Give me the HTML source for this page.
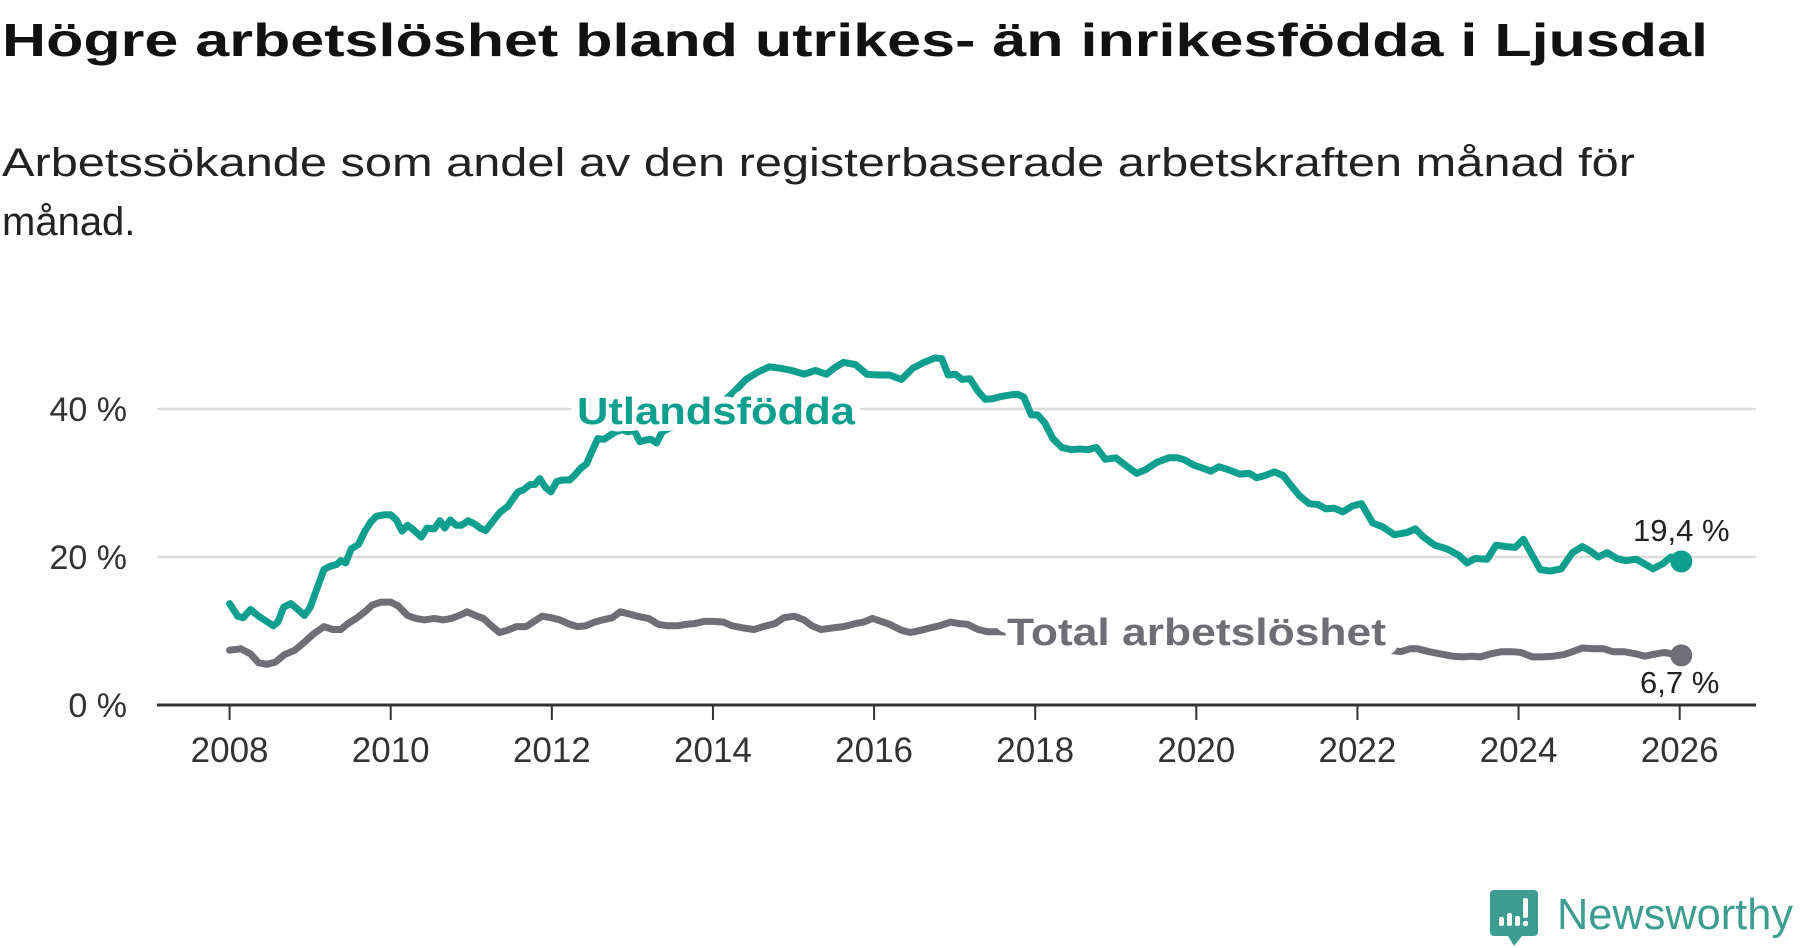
<!DOCTYPE html>
<html><head><meta charset="utf-8"><style>
html,body{margin:0;padding:0;background:#fff;width:1800px;height:948px;overflow:hidden}
svg{display:block;font-family:"Liberation Sans","DejaVu Sans",sans-serif}
</style></head><body>
<svg id="chart" width="1800" height="948" viewBox="0 0 1800 948">
<text x="2" y="56" font-size="46" font-weight="bold" fill="#111" textLength="1706" lengthAdjust="spacingAndGlyphs">Högre arbetslöshet bland utrikes- än inrikesfödda i Ljusdal</text>
<text x="2" y="176" font-size="40" fill="#222" textLength="1633" lengthAdjust="spacingAndGlyphs">Arbetssökande som andel av den registerbaserade arbetskraften månad för</text>
<text x="2" y="235" font-size="40" fill="#222">månad.</text>
<g id="grid"></g>
<g id="axes"></g>
<g id="series"></g>
<g id="labels"></g>
<g>
<path d="M1494 890 h40 a4 4 0 0 1 4 4 v38 a4 4 0 0 1 -4 4 h-12 l-8 10 l-6 -10 h-14 a4 4 0 0 1 -4 -4 v-38 a4 4 0 0 1 4 -4z" fill="#3d9d91"/>
<rect x="1499" y="917" width="5" height="9" rx="2" fill="#fff"/>
<rect x="1507" y="913" width="5" height="13" rx="2" fill="#fff"/>
<rect x="1515" y="916" width="5" height="10" rx="2" fill="#fff"/>
<rect x="1523" y="898" width="5" height="20" rx="2" fill="#fff"/>
<rect x="1523" y="921" width="5" height="5" rx="2" fill="#fff"/>
<text x="1557" y="929" font-size="44" fill="#3d9d91" textLength="236" lengthAdjust="spacingAndGlyphs">Newsworthy</text>
</g>
</svg>
<script>
const yTicks=[0,20,40];
const yTickLabels=["0 %","20 %","40 %"];
const xTicks=[2008,2010,2012,2014,2016,2018,2020,2022,2024,2026];
const utlYears=[0,.10,.17,.26,.36,.46,.54,.60,.67,.76,.86,.93,1.00,1.08,1.17,1.24,1.33,1.38,1.44,1.51,1.60,1.68,1.75,1.82,1.92,2.00,2.07,2.14,2.21,2.29,2.38,2.45,2.54,2.61,2.67,2.74,2.81,2.88,2.96,3.05,3.11,3.18,3.28,3.36,3.45,3.52,3.58,3.65,3.73,3.79,3.85,3.92,3.99,4.06,4.13,4.22,4.28,4.36,4.43,4.50,4.57,4.65,4.72,4.79,4.87,4.95,5.02,5.09,5.16,5.23,5.30,5.37,5.56,5.77,5.99,6.13,6.27,6.41,6.56,6.70,6.84,6.98,7.13,7.27,7.41,7.50,7.62,7.77,7.91,8.05,8.19,8.34,8.48,8.62,8.76,8.84,8.92,9.01,9.09,9.19,9.29,9.38,9.48,9.58,9.69,9.78,9.86,9.95,10.03,10.12,10.22,10.33,10.45,10.55,10.65,10.76,10.87,11.00,11.12,11.26,11.37,11.51,11.66,11.77,11.86,11.97,12.08,12.18,12.28,12.40,12.54,12.66,12.75,12.85,12.97,13.08,13.18,13.28,13.40,13.51,13.61,13.71,13.82,13.94,14.05,14.19,14.31,14.46,14.61,14.72,14.82,14.96,15.11,15.25,15.36,15.46,15.61,15.72,15.85,15.96,16.06,16.17,16.27,16.39,16.53,16.67,16.79,16.89,16.99,17.10,17.22,17.33,17.46,17.56,17.67,17.79,17.89,18.02];
const utlValues=[13.7,12,11.8,12.9,12,11.3,10.7,11.2,13.2,13.7,12.8,12.1,13.2,15.6,18.3,18.7,19,19.5,19.2,21.1,21.7,23.5,24.7,25.5,25.7,25.7,25,23.5,24.3,23.6,22.7,23.9,23.8,24.9,23.9,25,24.3,24.3,24.9,24.4,23.9,23.6,25,26.1,26.8,27.9,28.8,29.1,29.8,29.8,30.6,29.4,28.8,30.2,30.4,30.4,31,32,32.6,34.3,36,35.9,36.4,36.9,37.2,36.9,37.2,35.6,35.8,35.9,35.4,36.9,38,39,40,41,42.4,44,45,45.7,45.5,45.2,44.7,45.2,44.7,45.5,46.3,46,44.7,44.6,44.6,44,45.5,46.3,46.9,46.8,44.6,44.7,44,44.1,42.4,41.3,41.4,41.7,41.9,42,41.6,39.2,39.2,38.1,36,34.8,34.5,34.6,34.5,34.8,33.2,33.4,32.4,31.3,31.8,32.8,33.4,33.4,33.1,32.4,32,31.6,32.2,31.8,31.2,31.3,30.7,31,31.5,31,29.6,28.3,27.2,27.1,26.5,26.6,26.1,26.9,27.2,24.6,24.1,23,23.3,23.8,22.7,21.6,21.1,20.3,19.2,19.8,19.7,21.6,21.4,21.3,22.4,20.2,18.3,18.1,18.4,20.6,21.4,20.8,20,20.6,19.8,19.5,19.7,19.1,18.4,19.1,20,19.4];
const totYears=[0,.14,.26,.36,.46,.57,.68,.81,.93,1.04,1.17,1.28,1.38,1.47,1.57,1.68,1.77,1.88,2.00,2.09,2.21,2.31,2.42,2.54,2.65,2.75,2.85,2.95,3.05,3.15,3.25,3.35,3.45,3.56,3.68,3.78,3.88,3.99,4.10,4.22,4.32,4.42,4.53,4.63,4.75,4.85,4.96,5.06,5.20,5.32,5.44,5.56,5.67,5.77,5.89,6.01,6.13,6.24,6.38,6.51,6.66,6.77,6.88,7.01,7.13,7.23,7.34,7.48,7.62,7.77,7.87,7.98,8.09,8.19,8.34,8.45,8.58,8.69,8.81,8.95,9.05,9.16,9.29,9.41,9.52,9.83,10.26,10.69,11.12,11.54,11.97,12.40,12.83,13.25,13.68,14.11,14.39,14.54,14.65,14.75,14.89,15.03,15.18,15.32,15.42,15.53,15.65,15.79,15.93,16.03,16.17,16.29,16.43,16.56,16.67,16.79,16.93,17.06,17.17,17.31,17.46,17.57,17.70,17.81,18.02];
const totValues=[7.4,7.6,6.9,5.7,5.5,5.8,6.8,7.4,8.5,9.6,10.6,10.2,10.2,11,11.7,12.6,13.5,13.9,13.9,13.4,12.1,11.7,11.5,11.7,11.5,11.7,12.1,12.6,12.1,11.7,10.7,9.8,10.1,10.6,10.6,11.3,12,11.8,11.5,10.9,10.6,10.7,11.2,11.5,11.8,12.6,12.3,12,11.7,10.9,10.7,10.7,10.9,11,11.3,11.3,11.2,10.7,10.4,10.2,10.7,11,11.8,12,11.5,10.7,10.2,10.4,10.6,11,11.2,11.7,11.3,10.9,10.1,9.8,10.1,10.4,10.7,11.2,11,10.9,10.2,9.9,9.9,9.8,9.9,9.6,9,8.7,9,8.8,8.6,8.3,8,7.6,7.4,7.2,7.6,7.6,7.2,6.9,6.6,6.5,6.6,6.5,6.9,7.2,7.2,7.1,6.5,6.5,6.6,6.8,7.2,7.7,7.6,7.6,7.2,7.2,6.9,6.6,6.9,7.1,6.7];
const utlLast="19,4 %", totLast="6,7 %";

const NS="http://www.w3.org/2000/svg";
function xS(y){return 229.6+(y-2008)*80.56;}
function yS(v){return 705-v*7.4;}
function mk(tag,attrs,parent){const e=document.createElementNS(NS,tag);for(const k in attrs)e.setAttribute(k,attrs[k]);parent.appendChild(e);return e;}
const grid=document.getElementById('grid'),axes=document.getElementById('axes'),series=document.getElementById('series'),labels=document.getElementById('labels');
yTicks.forEach((t,i)=>{
  if(t>0){const g=mk('line',{x1:157,x2:1756,y1:yS(t),y2:yS(t),stroke:'#dcdcdc','stroke-width':2.5},grid);
  
  }
  const tx=mk('text',{x:127,y:yS(t)+12,'text-anchor':'end','font-size':34,fill:'#333'},axes);
  tx.textContent=yTickLabels[i];
  
  
});
const ax=mk('line',{x1:157,x2:1756,y1:yS(0),y2:yS(0),stroke:'#333','stroke-width':3},axes);


xTicks.forEach(t=>{
  const tk=mk('line',{x1:xS(t),x2:xS(t),y1:yS(0),y2:yS(0)+15,stroke:'#333','stroke-width':2},axes);
  
  
  const tx=mk('text',{x:xS(t),y:762,'text-anchor':'middle','font-size':35,fill:'#333'},axes);
  tx.textContent=t;
  
  
});
function line(ys,vs,color,name){
  const d=ys.map((y,i)=>(i?'L':'M')+xS(2008+y).toFixed(1)+' '+yS(vs[i]).toFixed(1)).join(' ');
  const p=mk('path',{d:d,fill:'none',stroke:color,'stroke-width':7,'stroke-linejoin':'round','stroke-linecap':'round'},series);
  
  
  const n=ys.length-1;
  const c=mk('circle',{cx:xS(2008+ys[n]),cy:yS(vs[n]),r:11,fill:color},series);
  
  
}
line(totYears,totValues,'#6f6e74','total-line');
line(utlYears,utlValues,'#0e9f8f','utlandsfodda-line');
function lab(txt,x,y,size,color,bold,name,len,sw){
  const a={x:x,y:y,'font-size':size,fill:color,stroke:'#fff','stroke-width':sw||8,'paint-order':'stroke','stroke-linejoin':'round'};
  if(bold)a['font-weight']='bold';
  if(len){a.textLength=len;a.lengthAdjust='spacingAndGlyphs';}
  const t=mk('text',a,labels);t.textContent=txt;
  
  
}
lab('Utlandsfödda',577,424,38,'#0e9f8f',true,'utlandsfodda-label',278,14);
lab('Total arbetslöshet',1007,645,38,'#6f6e74',true,'total-label',379,20);
lab(utlLast,1633,541,31,'#222',false,'utlandsfodda-end-value');
lab(totLast,1640,693,31,'#222',false,'total-end-value');
</script>
</body></html>
